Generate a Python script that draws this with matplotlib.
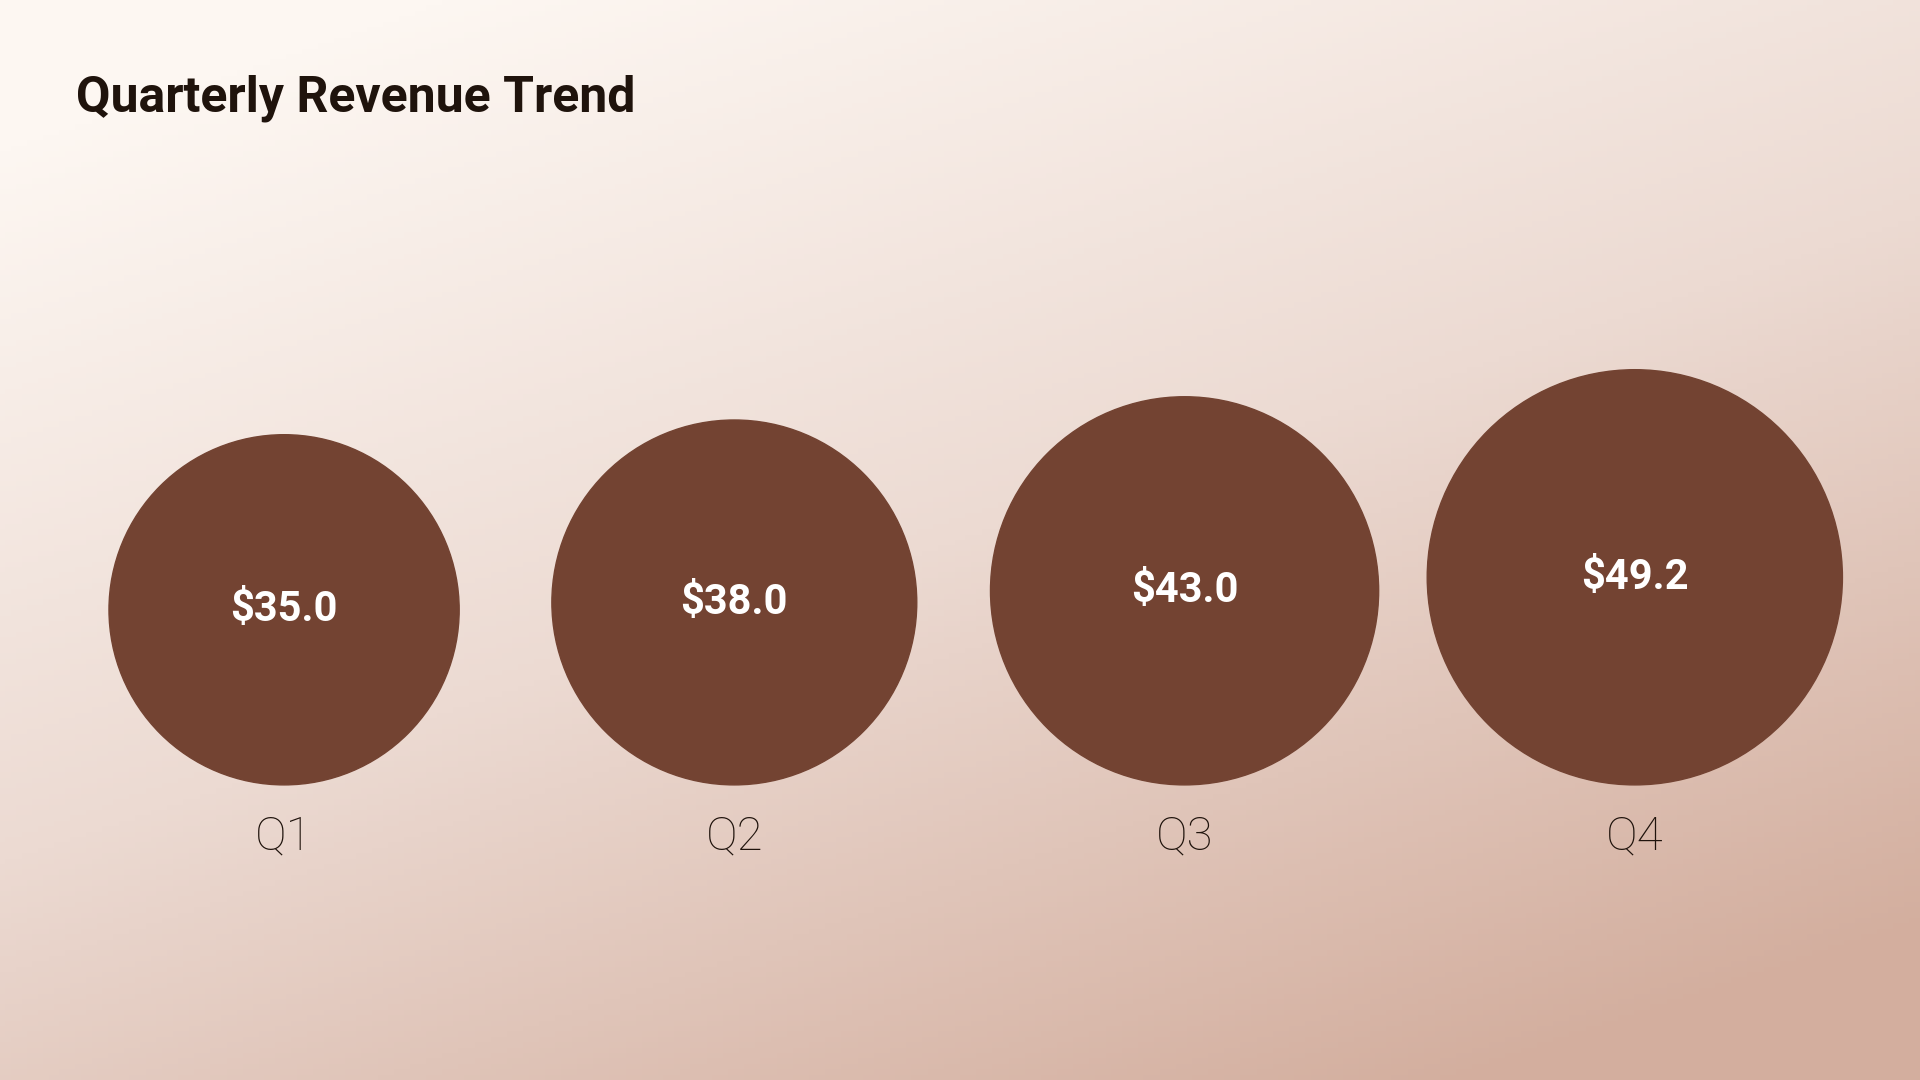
import numpy as np
import matplotlib.pyplot as plt
from matplotlib.patches import Circle
from matplotlib.colors import LinearSegmentedColormap

quarters = ['Q1', 'Q2', 'Q3', 'Q4']
revenue = [35.0, 38.0, 43.0, 49.2]

W, H = 1568, 882  # layout units (reference geometry)
fig = plt.figure(figsize=(19.2, 10.8), dpi=100)
ax = fig.add_axes([0, 0, 1, 1])
ax.set_xlim(0, W)
ax.set_ylim(H, 0)
ax.axis('off')

# diagonal background gradient
yy, xx = np.mgrid[0:1:200j, 0:1:356j]
t = np.clip(0.45 * xx + 0.75 * yy - 0.1, 0, 1)
cmap = LinearSegmentedColormap.from_list('bg', ['#fdf7f2', '#ecdad2', '#d3ae9e'])
ax.imshow(t, cmap=cmap, extent=[0, W, H, 0], aspect='auto', zorder=0)

ax.text(62, 80, 'Quarterly Revenue Trend', fontsize=36, fontweight='bold',
        family='Roboto', color='#1f130c', va='center', ha='left')

base = 641
k = 143 / np.sqrt(revenue[0])
x0, dx = 232, 367.7
for i, (q, v) in enumerate(zip(quarters, revenue)):
    r = k * np.sqrt(v)
    cx = x0 + i * dx
    cy = base - r
    ax.add_patch(Circle((cx, cy), r, color='#734332', zorder=2))
    ax.text(cx, cy, f'${v:.1f}', fontsize=30, fontweight='bold', family='Roboto',
            color='white', ha='center', va='center', zorder=3)
    ax.text(cx, 683, q, fontsize=34, family='Roboto', fontweight='light',
            color='#1f130c', ha='center', va='center', zorder=3)

fig.savefig('out.png', dpi=100)
